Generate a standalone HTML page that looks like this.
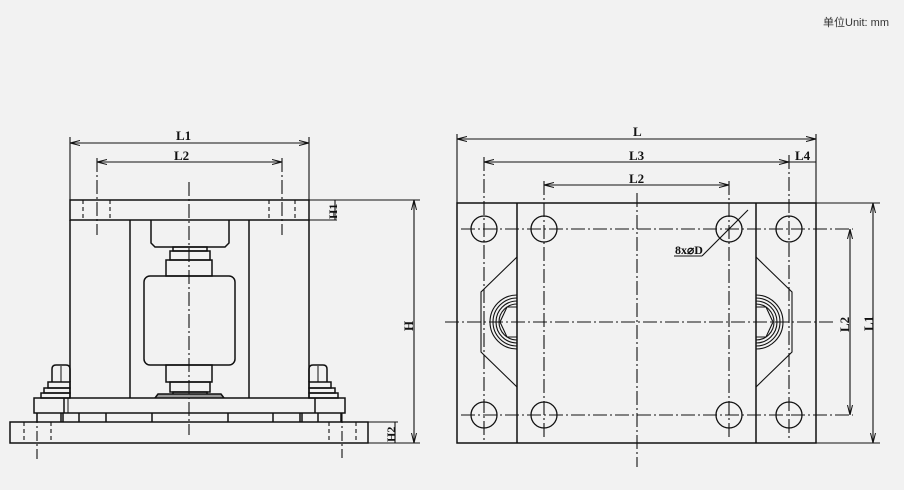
<!DOCTYPE html>
<html><head><meta charset="utf-8"><style>
html,body{margin:0;padding:0;background:#f2f2f2;width:904px;height:490px;overflow:hidden}
svg{display:block}
text{font-family:"Liberation Serif",serif;font-weight:bold;font-size:13px;fill:#111}
</style></head><body>
<svg width="904" height="490" viewBox="0 0 904 490" xmlns="http://www.w3.org/2000/svg">
<defs>
<marker id="a" viewBox="0 0 10 6" refX="10" refY="3" markerWidth="10" markerHeight="6" orient="auto-start-reverse" markerUnits="userSpaceOnUse"><path d="M0,0.5 L10,3 L0,5.5" fill="none" stroke="#111" stroke-width="1"/></marker>
</defs>
<text x="823" y="26" style="font-family:'Liberation Sans','Noto Sans CJK SC',sans-serif;font-weight:normal;font-size:11px;fill:#333">单位Unit: mm</text>
<g stroke="#111" stroke-width="1.5" fill="none">
<line x1="70" y1="137" x2="70" y2="200" stroke-width="1.1"/>
<line x1="309" y1="137" x2="309" y2="200" stroke-width="1.1"/>
<line x1="70" y1="143" x2="309" y2="143" stroke-width="1.1" marker-start="url(#a)" marker-end="url(#a)"/>
<line x1="97" y1="158" x2="97" y2="235" stroke-width="1.1" stroke-dasharray="14,3,2,3"/>
<line x1="282" y1="158" x2="282" y2="235" stroke-width="1.1" stroke-dasharray="14,3,2,3"/>
<line x1="97" y1="162" x2="282" y2="162" stroke-width="1.1" marker-start="url(#a)" marker-end="url(#a)"/>
<line x1="189" y1="182" x2="189" y2="435" stroke-width="1.1" stroke-dasharray="14,3,2,3"/>
<rect x="70" y="200" width="239" height="20"/>
<line x1="309" y1="200" x2="420" y2="200" stroke-width="1.1"/>
<line x1="309" y1="220" x2="337" y2="220" stroke-width="1.1"/>
<g stroke-dasharray="4,3" stroke-width="1.1"><line x1="83" y1="200" x2="83" y2="220"/><line x1="110" y1="200" x2="110" y2="220"/><line x1="269" y1="200" x2="269" y2="220"/><line x1="295" y1="200" x2="295" y2="220"/></g>
<line x1="70" y1="220" x2="70" y2="398"/><line x1="309" y1="220" x2="309" y2="398"/>
<line x1="130" y1="220" x2="130" y2="398"/><line x1="249" y1="220" x2="249" y2="398"/>
<path d="M151,220 V243 L155,247 H225 L229,243 V220"/>
<rect x="173" y="247" width="34" height="4"/>
<rect x="170" y="251" width="40" height="9"/>
<rect x="166" y="260" width="46" height="16"/>
<rect x="144" y="276" width="91" height="89" rx="6"/>
<rect x="166" y="365" width="46" height="17"/>
<rect x="170" y="382" width="40" height="10"/>
<rect x="173" y="392" width="34" height="5"/>
<path d="M155,398 L158,394 H221 L224,398" fill="#999"/>
<path d="M52,382 V369 Q52,365 56,365 H66 Q70,365 70,369 V382"/><line x1="61" y1="366" x2="61" y2="382" stroke-width="1"/>
<rect x="48" y="382" width="22" height="6"/><rect x="44" y="388" width="26" height="5"/><rect x="41" y="393" width="29" height="5"/>
<path d="M309,382 V369 Q309,365 313,365 H323 Q327,365 327,369 V382"/><line x1="318" y1="366" x2="318" y2="382" stroke-width="1"/>
<rect x="309" y="382" width="22" height="6"/><rect x="309" y="388" width="26" height="5"/><rect x="309" y="393" width="29" height="5"/>
<rect x="34" y="398" width="311" height="15"/>
<line x1="64" y1="398" x2="64" y2="413"/><line x1="68" y1="398" x2="68" y2="413" stroke-width="1"/>
<line x1="315" y1="398" x2="315" y2="413"/>
<path d="M37,413 V422 M61,413 V422 M63,413 V422 M79,413 V422 M106,413 V422 M152,413 V422 M228,413 V422 M273,413 V422 M300,413 V422 M302,413 V422 M318,413 V422 M341,413 V422"/>
<rect x="10" y="422" width="358" height="21"/>
<g stroke-dasharray="4,3" stroke-width="1.1"><line x1="24" y1="422" x2="24" y2="443"/><line x1="51" y1="422" x2="51" y2="443"/><line x1="329" y1="422" x2="329" y2="443"/><line x1="356" y1="422" x2="356" y2="443"/></g>
<line x1="37" y1="413" x2="37" y2="462" stroke-width="1.1" stroke-dasharray="10,3,2,3"/>
<line x1="342" y1="413" x2="342" y2="458" stroke-width="1.1" stroke-dasharray="10,3,2,3"/>
<line x1="368" y1="443" x2="420" y2="443" stroke-width="1.1"/>
<line x1="414" y1="200" x2="414" y2="443" stroke-width="1.1" marker-start="url(#a)" marker-end="url(#a)"/>
<line x1="335" y1="200" x2="335" y2="220" stroke-width="1.1"/>
<line x1="395" y1="422" x2="395" y2="443" stroke-width="1.1"/>
<line x1="368" y1="422" x2="398" y2="422" stroke-width="1.1"/>

<line x1="457" y1="134" x2="457" y2="203" stroke-width="1.1"/>
<line x1="816" y1="134" x2="816" y2="203" stroke-width="1.1"/>
<line x1="457" y1="139" x2="816" y2="139" stroke-width="1.1" marker-start="url(#a)" marker-end="url(#a)"/>
<line x1="484" y1="157" x2="484" y2="440" stroke-width="1.1" stroke-dasharray="14,3,2,3"/>
<line x1="789" y1="155" x2="789" y2="440" stroke-width="1.1" stroke-dasharray="14,3,2,3"/>
<line x1="484" y1="162" x2="789" y2="162" stroke-width="1.1" marker-start="url(#a)" marker-end="url(#a)"/>
<line x1="789" y1="162" x2="816" y2="162" stroke-width="1.1"/>
<line x1="544" y1="181" x2="544" y2="440" stroke-width="1.1" stroke-dasharray="14,3,2,3"/>
<line x1="729" y1="181" x2="729" y2="440" stroke-width="1.1" stroke-dasharray="14,3,2,3"/>
<line x1="544" y1="185" x2="729" y2="185" stroke-width="1.1" marker-start="url(#a)" marker-end="url(#a)"/>
<rect x="457" y="203" width="359" height="240"/>
<line x1="517" y1="203" x2="517" y2="443"/><line x1="756" y1="203" x2="756" y2="443"/>
<line x1="816" y1="203" x2="880" y2="203" stroke-width="1.1"/><line x1="816" y1="443" x2="880" y2="443" stroke-width="1.1"/>
<line x1="461" y1="229" x2="853" y2="229" stroke-width="1.1" stroke-dasharray="14,3,2,3"/>
<line x1="461" y1="415" x2="853" y2="415" stroke-width="1.1" stroke-dasharray="14,3,2,3"/>
<line x1="445" y1="322" x2="833" y2="322" stroke-width="1.1" stroke-dasharray="14,3,2,3"/>
<line x1="637" y1="193" x2="637" y2="467" stroke-width="1.1" stroke-dasharray="14,3,2,3"/>
<g stroke-width="1.3">
<circle cx="484" cy="229" r="13"/><circle cx="544" cy="229" r="13"/><circle cx="729" cy="229" r="13"/><circle cx="789" cy="229" r="13"/>
<circle cx="484" cy="415" r="13"/><circle cx="544" cy="415" r="13"/><circle cx="729" cy="415" r="13"/><circle cx="789" cy="415" r="13"/>
</g>
<line x1="850" y1="229" x2="850" y2="415" stroke-width="1.1" marker-start="url(#a)" marker-end="url(#a)"/>
<line x1="873" y1="203" x2="873" y2="443" stroke-width="1.1" marker-start="url(#a)" marker-end="url(#a)"/>
<path d="M517,257 L481,292 V352 L517,387" stroke-width="1.1"/>
<path d="M756,257 L792,292 V352 L756,387" stroke-width="1.1"/>
<g stroke-width="1.1">
<path d="M517,295 A27,27 0 0 0 517,349"/><path d="M517,298 A24,24 0 0 0 517,346"/><path d="M517,301 A21,21 0 0 0 517,343"/><path d="M517,304 A18,18 0 0 0 517,340"/>
<path d="M517,307 H507 L500,322 L507,337 H517"/>
<path d="M756,295 A27,27 0 0 1 756,349"/><path d="M756,298 A24,24 0 0 1 756,346"/><path d="M756,301 A21,21 0 0 1 756,343"/><path d="M756,304 A18,18 0 0 1 756,340"/>
<path d="M756,307 H766 L773,322 L766,337 H756"/>
</g>
<line x1="748" y1="210" x2="702" y2="256" stroke-width="1.1"/>
<line x1="674" y1="256" x2="702" y2="256" stroke-width="1.1"/>
</g>
<text x="176" y="140">L1</text>
<text x="174" y="160">L2</text>
<text x="633" y="136">L</text>
<text x="629" y="160">L3</text>
<text x="629" y="183">L2</text>
<text x="795" y="160">L4</text>
<text x="675" y="254" style="font-size:12px">8x⌀D</text>
<text transform="translate(337,219) rotate(-90)" style="font-size:12px">H1</text>
<text transform="translate(413,331) rotate(-90)">H</text>
<text transform="translate(395,442) rotate(-90)" style="font-size:12px">H2</text>
<text transform="translate(849,332) rotate(-90)">L2</text>
<text transform="translate(873,331) rotate(-90)">L1</text>
</svg>
</body></html>
